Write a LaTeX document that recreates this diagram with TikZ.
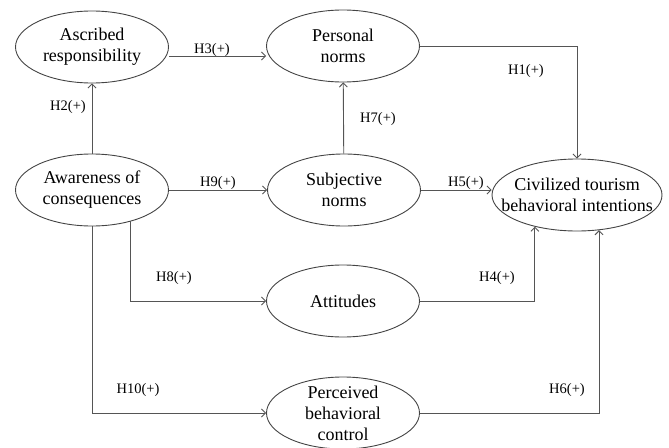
\documentclass[tikz,border=0pt]{standalone}
\usepackage{fontspec}
\setmainfont{Liberation Serif}
\usepackage{xcolor}
\usetikzlibrary{arrows.meta,shapes.geometric}
\definecolor{ovalgray}{HTML}{444444}
\definecolor{linegray}{HTML}{555555}
\begin{document}
\begin{tikzpicture}[
  x=1pt, y=-1pt,
  >={Straight Barb[length=4pt,width=8pt]},
  line width=0.9pt,
  construct/.style={ellipse, draw=ovalgray, line width=0.9pt, minimum width=153pt, minimum height=72pt, inner xsep=-10pt, inner ysep=-8pt, align=center, font=\fontsize{18}{21}\selectfont},
  hyp/.style={inner sep=1pt, font=\fontsize{14.5}{16}\selectfont},
  flow/.style={->, draw=linegray, line width=0.9pt}
]
  \useasboundingbox (0,0) rectangle (669,447);
  \node[construct] (asc) at (92,47) {Ascribed\\responsibility};
  \node[construct] (pn) at (343,46) {Personal\\norms};
  \node[construct] (aoc) at (92,190) {Awareness of\\consequences};
  \node[construct] (sn) at (344,190) {Subjective\\norms};
  \node[construct, minimum width=170pt, inner xsep=-22pt] (cti) at (577,195) {Civilized tourism\\behavioral intentions};
  \node[construct] (att) at (343,301) {Attitudes};
  \node[construct] (pbc) at (343,413) {Perceived\\behavioral\\control};
  \draw[flow] (aoc) -- (asc);
  \draw[flow] ([yshift=-9pt]asc.east) -- ([yshift=-9pt]asc.east -| pn.west);
  \draw[flow] (aoc) -- (sn);
  \draw[flow] (sn) -- (pn);
  \draw[flow] (pn) -| (cti);
  \draw[flow] (sn) -- (sn -| cti.west);
  \draw[flow] (aoc.-39) |- (att);
  \draw[flow] (aoc) |- (pbc);
  \draw[flow] (att) -| (cti.-143);
  \draw[flow] (pbc) -| (cti.-58);
  \node[hyp] (h1) at (526,71) {H1(+)};
  \node[hyp] (h2) at (68,107) {H2(+)};
  \node[hyp] (h3) at (212,50) {H3(+)};
  \node[hyp] (h4) at (497,278) {H4(+)};
  \node[hyp] (h5) at (466,183) {H5(+)};
  \node[hyp] (h6) at (567,390) {H6(+)};
  \node[hyp] (h7) at (378,119) {H7(+)};
  \node[hyp] (h8) at (174,278) {H8(+)};
  \node[hyp] (h9) at (218,183) {H9(+)};
  \node[hyp] (h10) at (138,390) {H10(+)};
\end{tikzpicture}
\end{document}
